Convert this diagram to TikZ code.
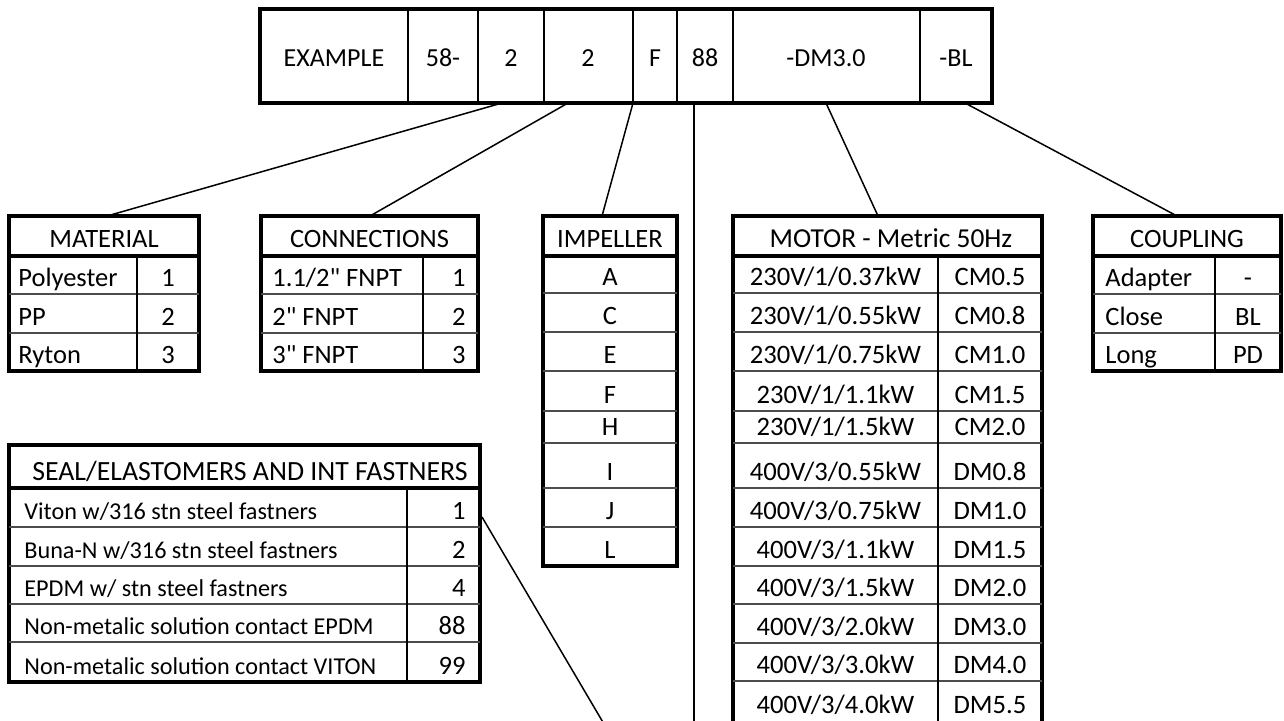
\documentclass[tikz,border=0pt]{standalone}
\usepackage{fontspec}
\setmainfont{Carlito}[Ligatures=TeXOff]
\begin{document}
\begin{tikzpicture}[x=0.5pt,y=-0.5pt,
  outer/.style={line width=1.6pt},
  hdr/.style={line width=1.6pt},
  vdiv/.style={line width=1.1pt},
  rowl/.style={line width=0.55pt,black!70},
  conn/.style={line width=0.75pt},
  lbl/.style={anchor=base,inner sep=0pt,font=\fontsize{13.25}{15}\selectfont},
  lbll/.style={lbl,anchor=base west},
  lblr/.style={lbl,anchor=base east},
  toplbl/.style={lbl,font=\fontsize{13}{15}\selectfont},
  motlbl/.style={lbl,font=\fontsize{13.3}{15}\selectfont},
  motH/.style={lbl,font=\fontsize{13.7}{15}\selectfont},
  sealH/.style={lbl,font=\fontsize{13.9}{15}\selectfont},
  seallbl/.style={lbl,font=\fontsize{12.1}{15}\selectfont}]
\useasboundingbox (0,0) rectangle (1284,720);
\clip (0,0) rectangle (1284,720);

% ---------- top code bar ----------
\draw[outer] (260,9) rectangle (992,103);
\foreach \x in {408,478,544,633,677,733,920} \draw[vdiv] (\x,9) -- (\x,103);
\node[toplbl] (tEx) at (334,66) {EXAMPLE};
\node[toplbl] (t58) at (443,66) {58-};
\node[toplbl] (tMat) at (511,66) {2};
\node[toplbl] (tCon) at (588,66) {2};
\node[toplbl] (tImp) at (655,66) {F};
\node[toplbl] (tSeal) at (705,66) {88};
\node[toplbl] (tMot) at (826,66) {-DM3.0};
\node[toplbl] (tCpl) at (956,66) {-BL};

% ---------- MATERIAL ----------
\draw[outer] (9,216) rectangle (199,371);
\foreach \y in {294,333} \draw[rowl] (9,\y) -- (199,\y);
\draw[hdr] (9,256) -- (199,256);
\draw[vdiv] (137,256) -- (137,371);
\node[lbl] (matH) at (104,247) {MATERIAL};
\node[lbll] (mat1) at (18,286) {Polyester};
\node[lbll] (mat2) at (18,325) {PP};
\node[lbll] (mat3) at (18,363) {Ryton};
\node[lbl] (mat1v) at (168,286) {1};
\node[lbl] (mat2v) at (168,325) {2};
\node[lbl] (mat3v) at (168,363) {3};

% ---------- CONNECTIONS ----------
\draw[outer] (261,216) rectangle (478,371);
\foreach \y in {294,333} \draw[rowl] (261,\y) -- (478,\y);
\draw[hdr] (261,256) -- (478,256);
\draw[vdiv] (423,256) -- (423,371);
\node[lbl] (conH) at (369.5,247) {CONNECTIONS};
\node[lbll] (con1) at (272,286) {1.1/2" FNPT};
\node[lbll] (con2) at (272,325) {2" FNPT};
\node[lbll] (con3) at (272,363) {3" FNPT};
\node[lblr] (con1v) at (466,286) {1};
\node[lblr] (con2v) at (466,325) {2};
\node[lblr] (con3v) at (466,363) {3};

% ---------- IMPELLER ----------
\draw[outer] (543,216) rectangle (677,566);
\foreach \y in {293,332,371,411,443,488,527} \draw[rowl] (543,\y) -- (677,\y);
\draw[hdr] (543,256) -- (677,256);
\node[lbl] (impH) at (610,247) {IMPELLER};
\foreach \t/\b [count=\i] in {A/285,C/324,E/363,F/403,H/435,I/480,J/519,L/558}
  \node[lbl] (imp\i) at (610,\b) {\t};

% ---------- MOTOR ----------
\draw[outer] (733,216) rectangle (1042,724);
\foreach \y in {293,332,371,411,443,488,527,566,604,643,681} \draw[rowl] (733,\y) -- (1042,\y);
\draw[hdr] (733,256) -- (1042,256);
\draw[vdiv] (938,256) -- (938,724);
\node[motH] (motH) at (891,247) {MOTOR - Metric 50Hz};
\foreach \a/\c/\b [count=\i] in {
  {230V/1/0.37kW}/CM0.5/285, {230V/1/0.55kW}/CM0.8/324, {230V/1/0.75kW}/CM1.0/363,
  {230V/1/1.1kW}/CM1.5/403, {230V/1/1.5kW}/CM2.0/435, {400V/3/0.55kW}/DM0.8/480,
  {400V/3/0.75kW}/DM1.0/519, {400V/3/1.1kW}/DM1.5/558, {400V/3/1.5kW}/DM2.0/596,
  {400V/3/2.0kW}/DM3.0/635, {400V/3/3.0kW}/DM4.0/673, {400V/3/4.0kW}/DM5.5/713}
  {\node[motlbl] (motA\i) at (835.5,\b) {\a};
   \node[motlbl] (motC\i) at (990,\b) {\c};}

% ---------- COUPLING ----------
\draw[outer] (1093,216) rectangle (1281,371);
\foreach \y in {294,333} \draw[rowl] (1093,\y) -- (1281,\y);
\draw[hdr] (1093,256) -- (1281,256);
\draw[vdiv] (1215,256) -- (1215,371);
\node[lbl] (cplH) at (1187,247) {COUPLING};
\node[lbll] (cpl1) at (1105,286) {Adapter};
\node[lbll] (cpl2) at (1105,325) {Close};
\node[lbll] (cpl3) at (1105,363) {Long};
\node[lbl] (cpl1v) at (1248,286) {-};
\node[lbl] (cpl2v) at (1248,325) {BL};
\node[lbl] (cpl3v) at (1248,363) {PD};

% ---------- SEAL ----------
\draw[outer] (9,445) rectangle (480,682);
\foreach \y in {527,566,604,642} \draw[rowl] (9,\y) -- (480,\y);
\draw[hdr] (9,488) -- (480,488);
\draw[vdiv] (407,488) -- (407,682);
\node[sealH] (sealH) at (250,480) {SEAL/ELASTOMERS AND INT FASTNERS};
\foreach \a/\c/\b [count=\i] in {
  {Viton w/316 stn steel fastners}/1/519, {Buna-N w/316 stn steel fastners}/2/558,
  {EPDM w/ stn steel fastners}/4/596, {Non-metalic solution contact EPDM}/88/634,
  {Non-metalic solution contact VITON}/99/674}
  {\node[seallbl,anchor=base west] (sealA\i) at (24,\b) {\a};
   \node[lbl,anchor=base east] (sealC\i) at (466,\b) {\c};}

% ---------- connectors ----------
\coordinate (sMat) at (502,103);  \coordinate (eMat) at (107,216);
\coordinate (sCon) at (568,103);  \coordinate (eCon) at (370,216);
\coordinate (sImp) at (633,103);  \coordinate (eImp) at (602,216);
\coordinate (sSeal) at (694,103); \coordinate (eSeal) at (694,724);
\coordinate (sMot) at (826,103);  \coordinate (eMot) at (878,216);
\coordinate (sCpl) at (965,103);  \coordinate (eCpl) at (1177,216);
\coordinate (sS1) at (482,517);   \coordinate (eS1) at (604,724);
\draw[conn] (sMat) -- (eMat);
\draw[conn] (sCon) -- (eCon);
\draw[conn] (sImp) -- (eImp);
\draw[conn] (sSeal) -- (eSeal);
\draw[conn] (sMot) -- (eMot);
\draw[conn] (sCpl) -- (eCpl);
\draw[conn] (sS1) -- (eS1);
\end{tikzpicture}
\end{document}
